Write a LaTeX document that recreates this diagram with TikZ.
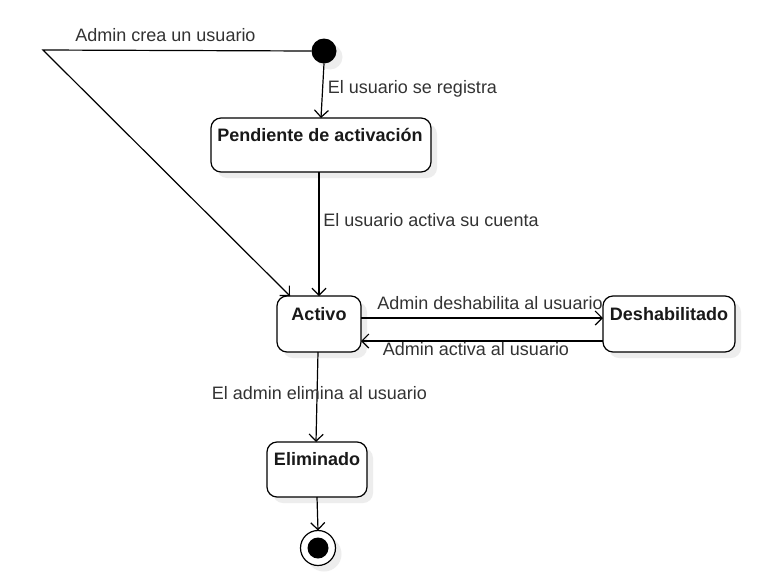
\documentclass[tikz,border=0pt]{standalone}
\usepackage{fontspec}
\setmainfont{Liberation Sans}
\usetikzlibrary{arrows.meta,shadows}
\begin{document}
\begin{tikzpicture}[x=1pt,y=-1pt,
  every node/.style={inner sep=0pt,outer sep=0pt},
  shad/.style={drop shadow={shadow xshift=6pt,shadow yshift=-6pt,fill=black!7,opacity=1}},
  statebox/.style={draw=black,line width=1.2pt,rounded corners=10pt,fill=white,shad},
  stxt/.style={anchor=base,font=\fontsize{18}{21}\selectfont\bfseries,text=black!90},
  ltxt/.style={anchor=base,font=\fontsize{18}{21}\selectfont,text=black!80},
  conn/.style={draw=black,line width=1.2pt,-{Straight Barb[length=7pt,width=14pt,line width=1.2pt]}},
  plain/.style={draw=black,line width=1.2pt}]
\useasboundingbox (0,0) rectangle (769,587);
\fill[white] (0,0) rectangle (769,587);
% states
\node[statebox,minimum width=220pt,minimum height=54pt] (pend) at (321,145) {};
\node[stxt] (pendt) at (320,141) {Pendiente de activación};
\node[statebox,minimum width=84pt,minimum height=56pt] (act) at (319,324) {};
\node[stxt] (actt) at (319,320) {Activo};
\node[statebox,minimum width=132pt,minimum height=56pt] (des) at (669,324) {};
\node[stxt] (dest) at (669,320) {Deshabilitado};
\node[statebox,minimum width=100pt,minimum height=55pt] (eli) at (317,469.5) {};
\node[stxt] (elit) at (317,465) {Eliminado};
% initial and final
\node[circle,fill=black,minimum size=25pt,shad] (init) at (324,51) {};
\node[circle,draw=black,line width=1.2pt,fill=white,minimum size=35pt,shad] (fin) at (318,548) {};
\node[circle,fill=black,minimum size=21pt] (finin) at (318,548) {};
% connectors
\coordinate (bend) at (43,50);
\draw[conn] (init.south) -- (pend.north -| 321,0);
\draw[conn] (pend.south -| 319,0) -- (act.north -| 319,0);
\draw[conn] (init.west) -- (bend) -- ([xshift=13pt]act.north west);
\draw[conn] ([yshift=6pt]act.east) -- ([yshift=6pt]des.west);
\draw[conn] ([yshift=-17pt]des.west) -- ([yshift=-17pt]act.east);
\draw[conn] (act.south -| 318,0) -- (eli.north -| 316,0);
\draw[conn] (eli.south) -- (fin.north);
% labels
\node[ltxt] (l1) at (165.5,41) {Admin crea un usuario};
\node[ltxt] (l2) at (412.5,93) {El usuario se registra};
\node[ltxt] (l3) at (431,226) {El usuario activa su cuenta};
\node[ltxt] (l4) at (490,309) {Admin deshabilita al usuario};
\node[ltxt] (l5) at (476,355) {Admin activa al usuario};
\node[ltxt] (l6) at (319.5,399) {El admin elimina al usuario};
\end{tikzpicture}
\end{document}
